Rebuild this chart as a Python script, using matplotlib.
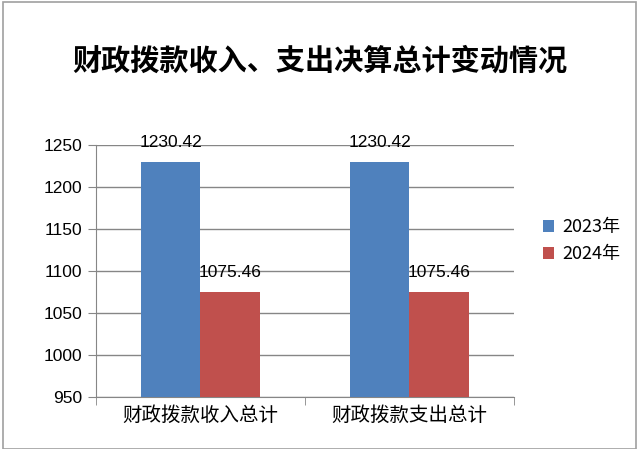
import matplotlib

matplotlib.use("Agg")
import matplotlib.pyplot as plt
import numpy as np
from matplotlib.patches import Rectangle

plt.rcParams["font.family"] = ["Noto Sans CJK SC", "DejaVu Sans"]

title = "财政拨款收入、支出决算总计变动情况"
categories = ["财政拨款收入总计", "财政拨款支出总计"]
series_names = ["2023年", "2024年"]
values_2023 = [1230.42, 1230.42]
values_2024 = [1075.46, 1075.46]
colors = ["#4F81BD", "#C0504D"]
yticks = [950, 1000, 1050, 1100, 1150, 1200, 1250]

fig = plt.figure(figsize=(6.4, 4.49), dpi=100)
ax = fig.add_axes([0.15, 0.1158, 0.653, 0.561])

x = np.arange(len(categories))
w = 0.286
for i, (vals, name) in enumerate(zip([values_2023, values_2024], series_names)):
    pos = x + (i - 0.5) * w
    ax.bar(pos, vals, width=w, bottom=0, color=colors[i], label=name, zorder=3)
    for p, v in zip(pos, vals):
        ax.text(p, v + 14, f"{v:.2f}", ha="center", va="bottom", fontsize=12.5,
                family=["Liberation Sans", "DejaVu Sans"], zorder=4)

ax.set_ylim(950, 1250)
ax.set_xlim(-0.5, 1.5)
ax.set_yticks(yticks)
ax.set_yticklabels([str(t) for t in yticks], family=["Liberation Sans", "DejaVu Sans"], fontsize=12.5)
ax.yaxis.grid(True, color="#868686", linewidth=1, zorder=0)
ax.set_xticks(x)
ax.set_xticklabels(categories, fontsize=14)
ax.tick_params(axis="x", length=0, pad=6)
ax.set_xticks([-0.5, 0.5, 1.5], minor=True)
ax.tick_params(axis="x", which="minor", length=6, color="#868686")
ax.tick_params(axis="y", length=6, color="#868686", pad=4)
for s in ["top", "right"]:
    ax.spines[s].set_visible(False)
for s in ["left", "bottom"]:
    ax.spines[s].set_color("#868686")

fig.text(0.5, 0.865, title, ha="center", va="center", fontsize=21, fontweight="bold")

ax.legend(loc="center left", bbox_to_anchor=(1.03, 0.62), frameon=False, fontsize=13,
          handlelength=0.6, handleheight=0.6, handletextpad=0.5, labelspacing=0.5)

fig.patches.append(Rectangle((0.004, 0.0), 0.99, 0.996, transform=fig.transFigure,
                             fill=False, edgecolor="#A0A0A0", linewidth=1.2))

fig.savefig("out.png", dpi=100)
